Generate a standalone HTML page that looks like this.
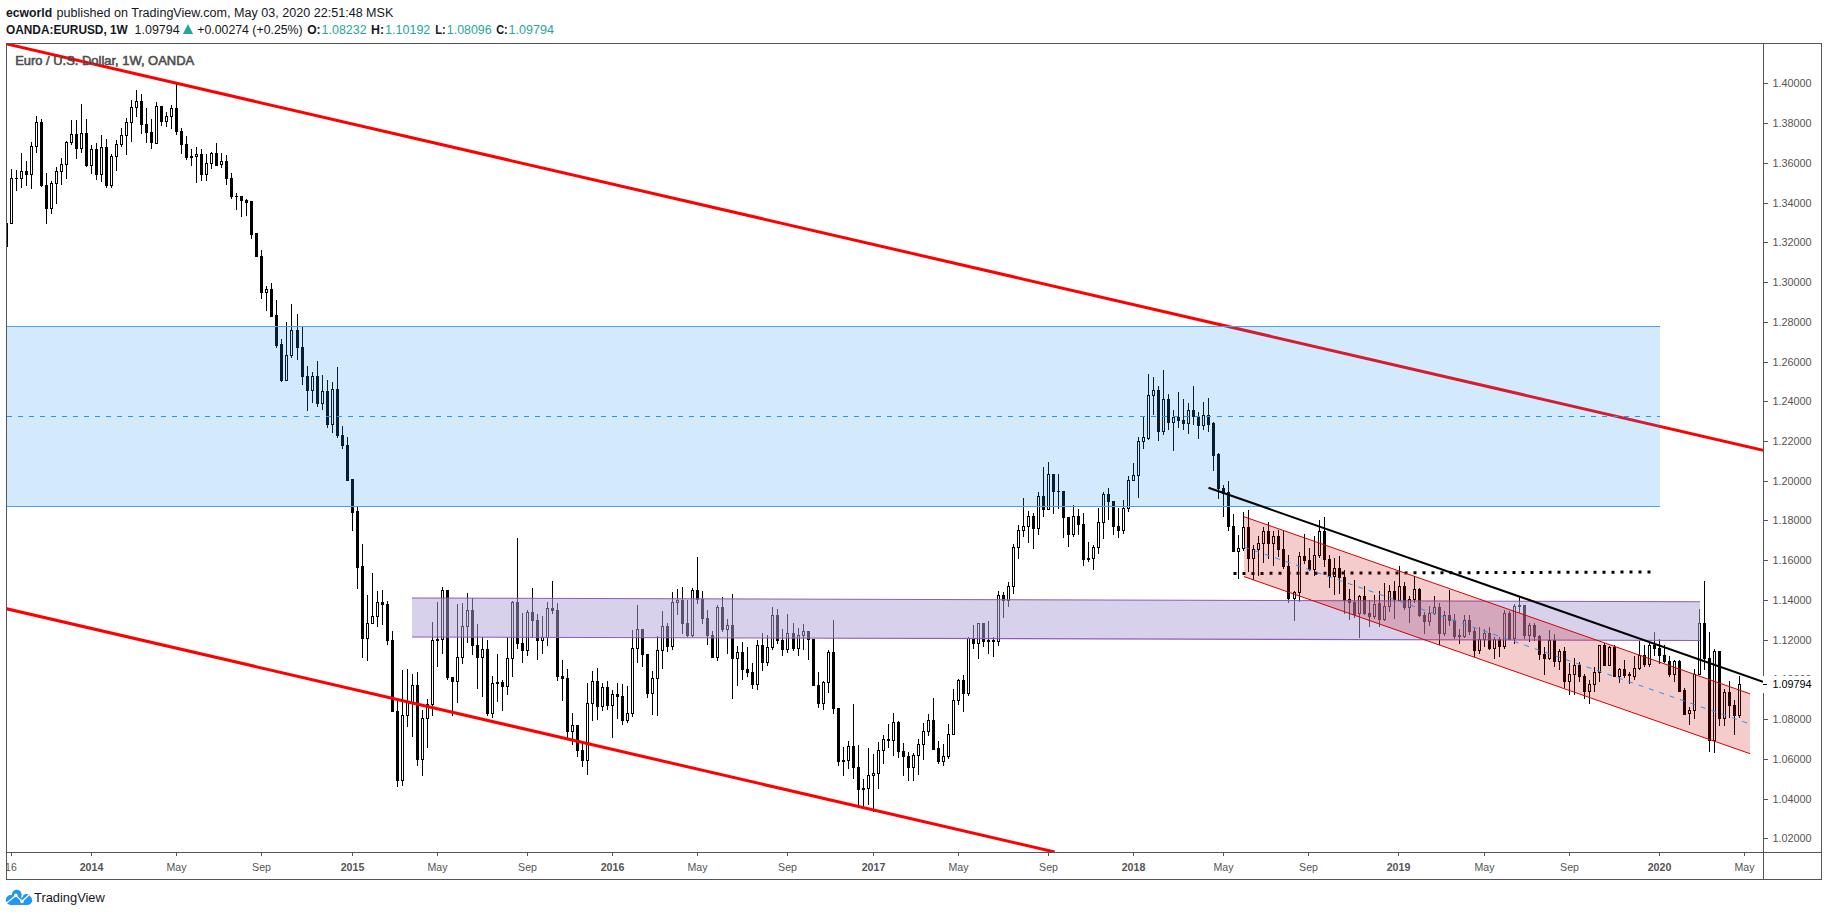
<!DOCTYPE html>
<html lang="en"><head><meta charset="utf-8"><title>EURUSD 1W chart by ecworld - TradingView</title>
<style>html,body{margin:0;padding:0;background:#fff;}body{width:1828px;height:916px;overflow:hidden;}svg{display:block;}text{font-family:"Liberation Sans",sans-serif;}</style></head><body>
<svg width="1828" height="916" viewBox="0 0 1828 916">
<rect width="1828" height="916" fill="#fff"/>
<g id="header">
<text x="6" y="16.6" font-size="12.5" fill="#131722" font-weight="bold" textLength="46.2" lengthAdjust="spacingAndGlyphs">ecworld</text>
<text x="56.6" y="16.6" font-size="12.5" fill="#131722" textLength="336.8" lengthAdjust="spacingAndGlyphs">published on TradingView.com, May 03, 2020 22:51:48 MSK</text>
<text x="6" y="34.1" font-size="12.5" fill="#131722" font-weight="bold" textLength="121.8" lengthAdjust="spacingAndGlyphs">OANDA:EURUSD, 1W</text>
<text x="134.6" y="34.1" font-size="12.5" fill="#131722" textLength="45" lengthAdjust="spacingAndGlyphs">1.09794</text>
<path d="M182.9 33.9 L188 24.0 L193.1 33.9 Z" fill="#26a69a"/>
<text x="197.3" y="34.1" font-size="12.5" fill="#131722" textLength="105.3" lengthAdjust="spacingAndGlyphs">+0.00274 (+0.25%)</text>
<text x="307.2" y="34.1" font-size="12.5" fill="#131722" font-weight="bold" textLength="13.4" lengthAdjust="spacingAndGlyphs">O:</text>
<text x="321.6" y="34.1" font-size="12.5" fill="#26a69a" textLength="45.0" lengthAdjust="spacingAndGlyphs">1.08232</text>
<text x="371.0" y="34.1" font-size="12.5" fill="#131722" font-weight="bold" textLength="13.0" lengthAdjust="spacingAndGlyphs">H:</text>
<text x="385.1" y="34.1" font-size="12.5" fill="#26a69a" textLength="45.2" lengthAdjust="spacingAndGlyphs">1.10192</text>
<text x="435.3" y="34.1" font-size="12.5" fill="#131722" font-weight="bold" textLength="10.5" lengthAdjust="spacingAndGlyphs">L:</text>
<text x="446.8" y="34.1" font-size="12.5" fill="#26a69a" textLength="44.8" lengthAdjust="spacingAndGlyphs">1.08096</text>
<text x="496.2" y="34.1" font-size="12.5" fill="#131722" font-weight="bold" textLength="11.6" lengthAdjust="spacingAndGlyphs">C:</text>
<text x="508.6" y="34.1" font-size="12.5" fill="#26a69a" textLength="45.3" lengthAdjust="spacingAndGlyphs">1.09794</text>
</g>
<defs><clipPath id="pane"><rect x="7" y="44" width="1756" height="808"/></clipPath></defs>
<g clip-path="url(#pane)">
<g shape-rendering="crispEdges" fill="#000">
<rect x="6" y="223" width="1" height="24"/>
<rect x="5" y="223" width="3" height="24"/>
<rect x="11" y="169" width="1" height="55"/>
<rect x="10" y="178" width="3" height="46"/>
<rect x="16" y="170" width="1" height="21"/>
<rect x="15" y="178" width="3" height="1"/>
<rect x="21" y="153" width="1" height="35"/>
<rect x="20" y="171" width="3" height="8"/>
<rect x="26" y="161" width="1" height="25"/>
<rect x="25" y="171" width="3" height="4"/>
<rect x="31" y="142" width="1" height="47"/>
<rect x="30" y="146" width="3" height="29"/>
<rect x="36" y="116" width="1" height="37"/>
<rect x="35" y="122" width="3" height="25"/>
<rect x="41" y="119" width="1" height="68"/>
<rect x="40" y="122" width="3" height="64"/>
<rect x="46" y="173" width="1" height="51"/>
<rect x="45" y="185" width="3" height="24"/>
<rect x="51" y="181" width="1" height="33"/>
<rect x="50" y="183" width="3" height="26"/>
<rect x="56" y="167" width="1" height="37"/>
<rect x="55" y="171" width="3" height="13"/>
<rect x="61" y="158" width="1" height="27"/>
<rect x="60" y="164" width="3" height="8"/>
<rect x="66" y="141" width="1" height="38"/>
<rect x="65" y="142" width="3" height="23"/>
<rect x="71" y="120" width="1" height="25"/>
<rect x="70" y="134" width="3" height="9"/>
<rect x="76" y="120" width="1" height="39"/>
<rect x="75" y="134" width="3" height="15"/>
<rect x="81" y="104" width="1" height="49"/>
<rect x="80" y="133" width="3" height="16"/>
<rect x="86" y="119" width="1" height="48"/>
<rect x="85" y="133" width="3" height="33"/>
<rect x="91" y="145" width="1" height="29"/>
<rect x="90" y="149" width="3" height="17"/>
<rect x="96" y="143" width="1" height="37"/>
<rect x="95" y="149" width="3" height="26"/>
<rect x="101" y="135" width="1" height="47"/>
<rect x="100" y="147" width="3" height="28"/>
<rect x="106" y="139" width="1" height="49"/>
<rect x="105" y="147" width="3" height="39"/>
<rect x="111" y="154" width="1" height="34"/>
<rect x="110" y="156" width="3" height="30"/>
<rect x="116" y="140" width="1" height="31"/>
<rect x="115" y="144" width="3" height="13"/>
<rect x="121" y="128" width="1" height="19"/>
<rect x="120" y="135" width="3" height="10"/>
<rect x="126" y="118" width="1" height="37"/>
<rect x="125" y="122" width="3" height="14"/>
<rect x="131" y="100" width="1" height="42"/>
<rect x="130" y="107" width="3" height="16"/>
<rect x="136" y="90" width="1" height="27"/>
<rect x="135" y="101" width="3" height="7"/>
<rect x="141" y="94" width="1" height="40"/>
<rect x="140" y="101" width="3" height="24"/>
<rect x="146" y="108" width="1" height="35"/>
<rect x="145" y="124" width="3" height="9"/>
<rect x="151" y="119" width="1" height="30"/>
<rect x="150" y="132" width="3" height="11"/>
<rect x="156" y="102" width="1" height="42"/>
<rect x="155" y="106" width="3" height="38"/>
<rect x="161" y="106" width="1" height="20"/>
<rect x="160" y="106" width="3" height="16"/>
<rect x="166" y="112" width="1" height="15"/>
<rect x="165" y="116" width="3" height="6"/>
<rect x="171" y="105" width="1" height="24"/>
<rect x="170" y="108" width="3" height="9"/>
<rect x="176" y="84" width="1" height="51"/>
<rect x="175" y="108" width="3" height="24"/>
<rect x="181" y="128" width="1" height="26"/>
<rect x="180" y="131" width="3" height="14"/>
<rect x="186" y="136" width="1" height="24"/>
<rect x="185" y="144" width="3" height="14"/>
<rect x="191" y="149" width="1" height="17"/>
<rect x="190" y="156" width="3" height="2"/>
<rect x="196" y="147" width="1" height="36"/>
<rect x="195" y="154" width="3" height="3"/>
<rect x="201" y="149" width="1" height="32"/>
<rect x="200" y="154" width="3" height="21"/>
<rect x="206" y="154" width="1" height="27"/>
<rect x="205" y="163" width="3" height="12"/>
<rect x="211" y="152" width="1" height="17"/>
<rect x="210" y="153" width="3" height="11"/>
<rect x="216" y="143" width="1" height="23"/>
<rect x="215" y="153" width="3" height="13"/>
<rect x="221" y="153" width="1" height="15"/>
<rect x="220" y="161" width="3" height="4"/>
<rect x="226" y="155" width="1" height="30"/>
<rect x="225" y="161" width="3" height="18"/>
<rect x="231" y="173" width="1" height="26"/>
<rect x="230" y="178" width="3" height="19"/>
<rect x="236" y="193" width="1" height="17"/>
<rect x="235" y="196" width="3" height="1"/>
<rect x="241" y="196" width="1" height="21"/>
<rect x="240" y="196" width="3" height="5"/>
<rect x="246" y="199" width="1" height="17"/>
<rect x="245" y="200" width="3" height="3"/>
<rect x="251" y="201" width="1" height="38"/>
<rect x="250" y="201" width="3" height="34"/>
<rect x="256" y="233" width="1" height="24"/>
<rect x="255" y="233" width="3" height="24"/>
<rect x="261" y="250" width="1" height="49"/>
<rect x="260" y="256" width="3" height="37"/>
<rect x="266" y="286" width="1" height="25"/>
<rect x="265" y="289" width="3" height="4"/>
<rect x="271" y="283" width="1" height="34"/>
<rect x="270" y="289" width="3" height="28"/>
<rect x="276" y="300" width="1" height="48"/>
<rect x="275" y="315" width="3" height="31"/>
<rect x="281" y="339" width="1" height="43"/>
<rect x="280" y="344" width="3" height="37"/>
<rect x="286" y="322" width="1" height="59"/>
<rect x="285" y="355" width="3" height="26"/>
<rect x="291" y="304" width="1" height="54"/>
<rect x="290" y="330" width="3" height="26"/>
<rect x="297" y="314" width="1" height="46"/>
<rect x="296" y="330" width="3" height="18"/>
<rect x="302" y="327" width="1" height="58"/>
<rect x="301" y="347" width="3" height="30"/>
<rect x="307" y="366" width="1" height="45"/>
<rect x="306" y="376" width="3" height="15"/>
<rect x="312" y="372" width="1" height="31"/>
<rect x="311" y="376" width="3" height="15"/>
<rect x="317" y="361" width="1" height="46"/>
<rect x="316" y="376" width="3" height="28"/>
<rect x="322" y="375" width="1" height="35"/>
<rect x="321" y="391" width="3" height="13"/>
<rect x="327" y="380" width="1" height="48"/>
<rect x="326" y="391" width="3" height="34"/>
<rect x="332" y="382" width="1" height="51"/>
<rect x="331" y="389" width="3" height="36"/>
<rect x="337" y="367" width="1" height="71"/>
<rect x="336" y="389" width="3" height="47"/>
<rect x="342" y="426" width="1" height="23"/>
<rect x="341" y="435" width="3" height="11"/>
<rect x="347" y="437" width="1" height="44"/>
<rect x="346" y="445" width="3" height="36"/>
<rect x="352" y="479" width="1" height="52"/>
<rect x="351" y="479" width="3" height="34"/>
<rect x="357" y="507" width="1" height="82"/>
<rect x="356" y="511" width="3" height="57"/>
<rect x="362" y="544" width="1" height="114"/>
<rect x="361" y="566" width="3" height="73"/>
<rect x="367" y="595" width="1" height="66"/>
<rect x="366" y="623" width="3" height="16"/>
<rect x="372" y="573" width="1" height="51"/>
<rect x="371" y="616" width="3" height="8"/>
<rect x="377" y="591" width="1" height="36"/>
<rect x="376" y="602" width="3" height="15"/>
<rect x="382" y="590" width="1" height="35"/>
<rect x="381" y="602" width="3" height="3"/>
<rect x="387" y="601" width="1" height="44"/>
<rect x="386" y="604" width="3" height="37"/>
<rect x="392" y="631" width="1" height="81"/>
<rect x="391" y="640" width="3" height="72"/>
<rect x="397" y="701" width="1" height="86"/>
<rect x="396" y="711" width="3" height="70"/>
<rect x="402" y="670" width="1" height="116"/>
<rect x="401" y="715" width="3" height="66"/>
<rect x="407" y="669" width="1" height="58"/>
<rect x="406" y="702" width="3" height="14"/>
<rect x="412" y="674" width="1" height="63"/>
<rect x="411" y="685" width="3" height="18"/>
<rect x="417" y="672" width="1" height="94"/>
<rect x="416" y="685" width="3" height="75"/>
<rect x="422" y="710" width="1" height="66"/>
<rect x="421" y="718" width="3" height="42"/>
<rect x="427" y="699" width="1" height="49"/>
<rect x="426" y="704" width="3" height="15"/>
<rect x="432" y="622" width="1" height="94"/>
<rect x="431" y="640" width="3" height="65"/>
<rect x="437" y="602" width="1" height="65"/>
<rect x="436" y="639" width="3" height="2"/>
<rect x="442" y="587" width="1" height="67"/>
<rect x="441" y="590" width="3" height="50"/>
<rect x="447" y="590" width="1" height="90"/>
<rect x="446" y="590" width="3" height="88"/>
<rect x="452" y="677" width="1" height="39"/>
<rect x="451" y="677" width="3" height="5"/>
<rect x="457" y="604" width="1" height="99"/>
<rect x="456" y="657" width="3" height="25"/>
<rect x="462" y="603" width="1" height="61"/>
<rect x="461" y="626" width="3" height="32"/>
<rect x="467" y="593" width="1" height="50"/>
<rect x="466" y="610" width="3" height="17"/>
<rect x="472" y="598" width="1" height="57"/>
<rect x="471" y="610" width="3" height="36"/>
<rect x="477" y="624" width="1" height="65"/>
<rect x="476" y="645" width="3" height="13"/>
<rect x="482" y="637" width="1" height="60"/>
<rect x="481" y="649" width="3" height="9"/>
<rect x="487" y="640" width="1" height="76"/>
<rect x="486" y="649" width="3" height="65"/>
<rect x="492" y="676" width="1" height="42"/>
<rect x="491" y="683" width="3" height="31"/>
<rect x="497" y="654" width="1" height="48"/>
<rect x="496" y="682" width="3" height="2"/>
<rect x="502" y="680" width="1" height="31"/>
<rect x="501" y="682" width="3" height="5"/>
<rect x="507" y="637" width="1" height="58"/>
<rect x="506" y="658" width="3" height="29"/>
<rect x="512" y="601" width="1" height="76"/>
<rect x="511" y="602" width="3" height="57"/>
<rect x="517" y="538" width="1" height="111"/>
<rect x="516" y="602" width="3" height="42"/>
<rect x="522" y="613" width="1" height="50"/>
<rect x="521" y="643" width="3" height="8"/>
<rect x="527" y="610" width="1" height="46"/>
<rect x="526" y="612" width="3" height="39"/>
<rect x="532" y="588" width="1" height="50"/>
<rect x="531" y="612" width="3" height="9"/>
<rect x="537" y="614" width="1" height="46"/>
<rect x="536" y="620" width="3" height="21"/>
<rect x="542" y="616" width="1" height="38"/>
<rect x="541" y="637" width="3" height="4"/>
<rect x="547" y="602" width="1" height="44"/>
<rect x="546" y="608" width="3" height="30"/>
<rect x="552" y="581" width="1" height="33"/>
<rect x="551" y="608" width="3" height="3"/>
<rect x="557" y="603" width="1" height="78"/>
<rect x="556" y="610" width="3" height="67"/>
<rect x="562" y="660" width="1" height="41"/>
<rect x="561" y="676" width="3" height="3"/>
<rect x="567" y="669" width="1" height="69"/>
<rect x="566" y="678" width="3" height="54"/>
<rect x="572" y="713" width="1" height="32"/>
<rect x="571" y="725" width="3" height="7"/>
<rect x="577" y="725" width="1" height="32"/>
<rect x="576" y="725" width="3" height="26"/>
<rect x="582" y="744" width="1" height="23"/>
<rect x="581" y="750" width="3" height="11"/>
<rect x="587" y="683" width="1" height="92"/>
<rect x="586" y="703" width="3" height="58"/>
<rect x="592" y="671" width="1" height="50"/>
<rect x="591" y="681" width="3" height="23"/>
<rect x="597" y="668" width="1" height="52"/>
<rect x="596" y="681" width="3" height="26"/>
<rect x="602" y="683" width="1" height="28"/>
<rect x="601" y="687" width="3" height="20"/>
<rect x="607" y="681" width="1" height="29"/>
<rect x="606" y="687" width="3" height="19"/>
<rect x="612" y="690" width="1" height="48"/>
<rect x="611" y="694" width="3" height="12"/>
<rect x="617" y="683" width="1" height="36"/>
<rect x="616" y="694" width="3" height="3"/>
<rect x="622" y="684" width="1" height="41"/>
<rect x="621" y="696" width="3" height="25"/>
<rect x="627" y="686" width="1" height="37"/>
<rect x="626" y="713" width="3" height="8"/>
<rect x="632" y="630" width="1" height="87"/>
<rect x="631" y="648" width="3" height="66"/>
<rect x="637" y="605" width="1" height="58"/>
<rect x="636" y="629" width="3" height="20"/>
<rect x="642" y="629" width="1" height="38"/>
<rect x="641" y="629" width="3" height="26"/>
<rect x="647" y="654" width="1" height="44"/>
<rect x="646" y="654" width="3" height="40"/>
<rect x="652" y="671" width="1" height="44"/>
<rect x="651" y="678" width="3" height="16"/>
<rect x="657" y="636" width="1" height="80"/>
<rect x="656" y="650" width="3" height="29"/>
<rect x="662" y="611" width="1" height="58"/>
<rect x="661" y="626" width="3" height="25"/>
<rect x="667" y="623" width="1" height="29"/>
<rect x="666" y="626" width="3" height="21"/>
<rect x="672" y="592" width="1" height="58"/>
<rect x="671" y="602" width="3" height="45"/>
<rect x="677" y="589" width="1" height="26"/>
<rect x="676" y="600" width="3" height="3"/>
<rect x="682" y="587" width="1" height="47"/>
<rect x="681" y="600" width="3" height="24"/>
<rect x="687" y="600" width="1" height="37"/>
<rect x="686" y="623" width="3" height="13"/>
<rect x="692" y="588" width="1" height="49"/>
<rect x="691" y="590" width="3" height="46"/>
<rect x="697" y="557" width="1" height="47"/>
<rect x="696" y="590" width="3" height="10"/>
<rect x="702" y="591" width="1" height="33"/>
<rect x="701" y="599" width="3" height="20"/>
<rect x="707" y="610" width="1" height="35"/>
<rect x="706" y="618" width="3" height="18"/>
<rect x="712" y="631" width="1" height="27"/>
<rect x="711" y="635" width="3" height="23"/>
<rect x="717" y="605" width="1" height="56"/>
<rect x="716" y="607" width="3" height="51"/>
<rect x="722" y="597" width="1" height="35"/>
<rect x="721" y="607" width="3" height="23"/>
<rect x="727" y="619" width="1" height="35"/>
<rect x="726" y="625" width="3" height="5"/>
<rect x="732" y="594" width="1" height="105"/>
<rect x="731" y="625" width="3" height="34"/>
<rect x="737" y="646" width="1" height="40"/>
<rect x="736" y="652" width="3" height="7"/>
<rect x="742" y="642" width="1" height="38"/>
<rect x="741" y="652" width="3" height="18"/>
<rect x="747" y="647" width="1" height="30"/>
<rect x="746" y="669" width="3" height="4"/>
<rect x="752" y="663" width="1" height="26"/>
<rect x="751" y="672" width="3" height="13"/>
<rect x="757" y="640" width="1" height="50"/>
<rect x="756" y="645" width="3" height="40"/>
<rect x="762" y="633" width="1" height="38"/>
<rect x="761" y="645" width="3" height="18"/>
<rect x="767" y="635" width="1" height="31"/>
<rect x="766" y="647" width="3" height="16"/>
<rect x="772" y="607" width="1" height="43"/>
<rect x="771" y="615" width="3" height="33"/>
<rect x="777" y="609" width="1" height="35"/>
<rect x="776" y="615" width="3" height="26"/>
<rect x="782" y="629" width="1" height="27"/>
<rect x="781" y="640" width="3" height="10"/>
<rect x="787" y="614" width="1" height="39"/>
<rect x="786" y="633" width="3" height="17"/>
<rect x="793" y="623" width="1" height="28"/>
<rect x="792" y="633" width="3" height="16"/>
<rect x="798" y="628" width="1" height="28"/>
<rect x="797" y="635" width="3" height="14"/>
<rect x="803" y="624" width="1" height="26"/>
<rect x="802" y="631" width="3" height="5"/>
<rect x="808" y="631" width="1" height="29"/>
<rect x="807" y="631" width="3" height="9"/>
<rect x="813" y="639" width="1" height="47"/>
<rect x="812" y="639" width="3" height="47"/>
<rect x="818" y="672" width="1" height="36"/>
<rect x="817" y="685" width="3" height="19"/>
<rect x="823" y="681" width="1" height="29"/>
<rect x="822" y="682" width="3" height="22"/>
<rect x="828" y="650" width="1" height="43"/>
<rect x="827" y="652" width="3" height="31"/>
<rect x="833" y="620" width="1" height="94"/>
<rect x="832" y="652" width="3" height="57"/>
<rect x="838" y="708" width="1" height="58"/>
<rect x="837" y="708" width="3" height="54"/>
<rect x="843" y="747" width="1" height="29"/>
<rect x="842" y="760" width="3" height="2"/>
<rect x="848" y="741" width="1" height="28"/>
<rect x="847" y="746" width="3" height="15"/>
<rect x="853" y="704" width="1" height="75"/>
<rect x="852" y="746" width="3" height="22"/>
<rect x="858" y="745" width="1" height="62"/>
<rect x="857" y="767" width="3" height="23"/>
<rect x="863" y="779" width="1" height="28"/>
<rect x="862" y="788" width="3" height="2"/>
<rect x="868" y="748" width="1" height="57"/>
<rect x="867" y="775" width="3" height="14"/>
<rect x="873" y="754" width="1" height="58"/>
<rect x="872" y="773" width="3" height="3"/>
<rect x="878" y="742" width="1" height="47"/>
<rect x="877" y="750" width="3" height="24"/>
<rect x="883" y="735" width="1" height="29"/>
<rect x="882" y="739" width="3" height="12"/>
<rect x="888" y="724" width="1" height="24"/>
<rect x="887" y="739" width="3" height="2"/>
<rect x="893" y="713" width="1" height="43"/>
<rect x="892" y="722" width="3" height="19"/>
<rect x="898" y="721" width="1" height="37"/>
<rect x="897" y="722" width="3" height="30"/>
<rect x="903" y="743" width="1" height="33"/>
<rect x="902" y="751" width="3" height="6"/>
<rect x="908" y="752" width="1" height="29"/>
<rect x="907" y="756" width="3" height="12"/>
<rect x="913" y="753" width="1" height="28"/>
<rect x="912" y="755" width="3" height="13"/>
<rect x="918" y="739" width="1" height="36"/>
<rect x="917" y="744" width="3" height="12"/>
<rect x="923" y="723" width="1" height="37"/>
<rect x="922" y="731" width="3" height="14"/>
<rect x="928" y="714" width="1" height="22"/>
<rect x="927" y="720" width="3" height="12"/>
<rect x="933" y="698" width="1" height="52"/>
<rect x="932" y="720" width="3" height="30"/>
<rect x="938" y="741" width="1" height="23"/>
<rect x="937" y="748" width="3" height="14"/>
<rect x="943" y="744" width="1" height="22"/>
<rect x="942" y="756" width="3" height="6"/>
<rect x="948" y="724" width="1" height="35"/>
<rect x="947" y="734" width="3" height="23"/>
<rect x="953" y="689" width="1" height="46"/>
<rect x="952" y="700" width="3" height="35"/>
<rect x="958" y="679" width="1" height="26"/>
<rect x="957" y="680" width="3" height="21"/>
<rect x="963" y="675" width="1" height="37"/>
<rect x="962" y="680" width="3" height="14"/>
<rect x="968" y="637" width="1" height="59"/>
<rect x="967" y="638" width="3" height="56"/>
<rect x="973" y="625" width="1" height="24"/>
<rect x="972" y="639" width="3" height="5"/>
<rect x="978" y="623" width="1" height="36"/>
<rect x="977" y="623" width="3" height="21"/>
<rect x="983" y="623" width="1" height="24"/>
<rect x="982" y="623" width="3" height="19"/>
<rect x="988" y="621" width="1" height="33"/>
<rect x="987" y="640" width="3" height="2"/>
<rect x="993" y="637" width="1" height="20"/>
<rect x="992" y="640" width="3" height="2"/>
<rect x="998" y="591" width="1" height="55"/>
<rect x="997" y="595" width="3" height="47"/>
<rect x="1003" y="592" width="1" height="26"/>
<rect x="1002" y="595" width="3" height="6"/>
<rect x="1008" y="582" width="1" height="25"/>
<rect x="1007" y="586" width="3" height="15"/>
<rect x="1013" y="544" width="1" height="50"/>
<rect x="1012" y="547" width="3" height="40"/>
<rect x="1018" y="525" width="1" height="34"/>
<rect x="1017" y="530" width="3" height="18"/>
<rect x="1023" y="498" width="1" height="39"/>
<rect x="1022" y="526" width="3" height="5"/>
<rect x="1028" y="511" width="1" height="32"/>
<rect x="1027" y="516" width="3" height="11"/>
<rect x="1033" y="513" width="1" height="36"/>
<rect x="1032" y="516" width="3" height="13"/>
<rect x="1038" y="492" width="1" height="43"/>
<rect x="1037" y="496" width="3" height="33"/>
<rect x="1043" y="467" width="1" height="50"/>
<rect x="1042" y="496" width="3" height="14"/>
<rect x="1048" y="462" width="1" height="48"/>
<rect x="1047" y="474" width="3" height="36"/>
<rect x="1053" y="474" width="1" height="40"/>
<rect x="1052" y="474" width="3" height="18"/>
<rect x="1058" y="474" width="1" height="35"/>
<rect x="1057" y="491" width="3" height="1"/>
<rect x="1063" y="491" width="1" height="47"/>
<rect x="1062" y="491" width="3" height="27"/>
<rect x="1068" y="517" width="1" height="30"/>
<rect x="1067" y="517" width="3" height="18"/>
<rect x="1073" y="505" width="1" height="32"/>
<rect x="1072" y="516" width="3" height="19"/>
<rect x="1078" y="509" width="1" height="26"/>
<rect x="1077" y="516" width="3" height="9"/>
<rect x="1083" y="513" width="1" height="53"/>
<rect x="1082" y="524" width="3" height="36"/>
<rect x="1088" y="542" width="1" height="20"/>
<rect x="1087" y="558" width="3" height="2"/>
<rect x="1093" y="545" width="1" height="25"/>
<rect x="1092" y="547" width="3" height="12"/>
<rect x="1098" y="508" width="1" height="46"/>
<rect x="1097" y="522" width="3" height="26"/>
<rect x="1103" y="492" width="1" height="47"/>
<rect x="1102" y="494" width="3" height="29"/>
<rect x="1108" y="488" width="1" height="32"/>
<rect x="1107" y="494" width="3" height="8"/>
<rect x="1113" y="501" width="1" height="34"/>
<rect x="1112" y="501" width="3" height="26"/>
<rect x="1118" y="508" width="1" height="30"/>
<rect x="1117" y="526" width="3" height="5"/>
<rect x="1123" y="500" width="1" height="34"/>
<rect x="1122" y="508" width="3" height="23"/>
<rect x="1128" y="476" width="1" height="36"/>
<rect x="1127" y="480" width="3" height="29"/>
<rect x="1133" y="463" width="1" height="18"/>
<rect x="1132" y="475" width="3" height="6"/>
<rect x="1138" y="437" width="1" height="61"/>
<rect x="1137" y="441" width="3" height="35"/>
<rect x="1143" y="416" width="1" height="33"/>
<rect x="1142" y="437" width="3" height="5"/>
<rect x="1148" y="374" width="1" height="66"/>
<rect x="1147" y="395" width="3" height="44"/>
<rect x="1153" y="377" width="1" height="38"/>
<rect x="1152" y="390" width="3" height="6"/>
<rect x="1158" y="386" width="1" height="55"/>
<rect x="1157" y="390" width="3" height="42"/>
<rect x="1163" y="370" width="1" height="65"/>
<rect x="1162" y="399" width="3" height="33"/>
<rect x="1168" y="394" width="1" height="36"/>
<rect x="1167" y="399" width="3" height="24"/>
<rect x="1173" y="410" width="1" height="41"/>
<rect x="1172" y="417" width="3" height="6"/>
<rect x="1178" y="392" width="1" height="36"/>
<rect x="1177" y="417" width="3" height="4"/>
<rect x="1183" y="399" width="1" height="31"/>
<rect x="1182" y="420" width="3" height="4"/>
<rect x="1188" y="403" width="1" height="31"/>
<rect x="1187" y="410" width="3" height="14"/>
<rect x="1193" y="386" width="1" height="39"/>
<rect x="1192" y="410" width="3" height="7"/>
<rect x="1198" y="412" width="1" height="27"/>
<rect x="1197" y="416" width="3" height="10"/>
<rect x="1203" y="402" width="1" height="28"/>
<rect x="1202" y="415" width="3" height="11"/>
<rect x="1208" y="398" width="1" height="34"/>
<rect x="1207" y="415" width="3" height="10"/>
<rect x="1213" y="422" width="1" height="49"/>
<rect x="1212" y="423" width="3" height="33"/>
<rect x="1218" y="453" width="1" height="46"/>
<rect x="1217" y="454" width="3" height="35"/>
<rect x="1223" y="485" width="1" height="32"/>
<rect x="1222" y="488" width="3" height="6"/>
<rect x="1228" y="481" width="1" height="50"/>
<rect x="1227" y="492" width="3" height="35"/>
<rect x="1233" y="514" width="1" height="38"/>
<rect x="1232" y="526" width="3" height="26"/>
<rect x="1238" y="535" width="1" height="44"/>
<rect x="1237" y="548" width="3" height="4"/>
<rect x="1243" y="512" width="1" height="39"/>
<rect x="1242" y="527" width="3" height="22"/>
<rect x="1248" y="510" width="1" height="62"/>
<rect x="1247" y="527" width="3" height="32"/>
<rect x="1253" y="545" width="1" height="35"/>
<rect x="1252" y="549" width="3" height="10"/>
<rect x="1258" y="536" width="1" height="40"/>
<rect x="1257" y="543" width="3" height="7"/>
<rect x="1263" y="527" width="1" height="36"/>
<rect x="1262" y="531" width="3" height="13"/>
<rect x="1268" y="522" width="1" height="37"/>
<rect x="1267" y="531" width="3" height="13"/>
<rect x="1273" y="531" width="1" height="35"/>
<rect x="1272" y="536" width="3" height="8"/>
<rect x="1278" y="530" width="1" height="27"/>
<rect x="1277" y="536" width="3" height="14"/>
<rect x="1283" y="531" width="1" height="38"/>
<rect x="1282" y="549" width="3" height="18"/>
<rect x="1288" y="555" width="1" height="48"/>
<rect x="1287" y="566" width="3" height="33"/>
<rect x="1294" y="591" width="1" height="30"/>
<rect x="1293" y="592" width="3" height="7"/>
<rect x="1299" y="552" width="1" height="50"/>
<rect x="1298" y="556" width="3" height="37"/>
<rect x="1304" y="534" width="1" height="30"/>
<rect x="1303" y="556" width="3" height="5"/>
<rect x="1309" y="548" width="1" height="23"/>
<rect x="1308" y="560" width="3" height="10"/>
<rect x="1314" y="536" width="1" height="40"/>
<rect x="1313" y="555" width="3" height="15"/>
<rect x="1319" y="520" width="1" height="38"/>
<rect x="1318" y="531" width="3" height="25"/>
<rect x="1324" y="517" width="1" height="50"/>
<rect x="1323" y="531" width="3" height="29"/>
<rect x="1329" y="555" width="1" height="33"/>
<rect x="1328" y="559" width="3" height="18"/>
<rect x="1334" y="558" width="1" height="37"/>
<rect x="1333" y="568" width="3" height="9"/>
<rect x="1339" y="556" width="1" height="38"/>
<rect x="1338" y="568" width="3" height="10"/>
<rect x="1344" y="570" width="1" height="44"/>
<rect x="1343" y="577" width="3" height="24"/>
<rect x="1349" y="589" width="1" height="31"/>
<rect x="1348" y="599" width="3" height="4"/>
<rect x="1354" y="580" width="1" height="38"/>
<rect x="1353" y="602" width="3" height="13"/>
<rect x="1359" y="595" width="1" height="43"/>
<rect x="1358" y="596" width="3" height="18"/>
<rect x="1364" y="586" width="1" height="29"/>
<rect x="1363" y="596" width="3" height="18"/>
<rect x="1369" y="600" width="1" height="27"/>
<rect x="1368" y="613" width="3" height="4"/>
<rect x="1374" y="595" width="1" height="24"/>
<rect x="1373" y="604" width="3" height="13"/>
<rect x="1379" y="591" width="1" height="36"/>
<rect x="1378" y="603" width="3" height="17"/>
<rect x="1384" y="583" width="1" height="38"/>
<rect x="1383" y="606" width="3" height="14"/>
<rect x="1389" y="585" width="1" height="27"/>
<rect x="1388" y="591" width="3" height="16"/>
<rect x="1394" y="581" width="1" height="38"/>
<rect x="1393" y="591" width="3" height="9"/>
<rect x="1399" y="566" width="1" height="35"/>
<rect x="1398" y="586" width="3" height="15"/>
<rect x="1404" y="582" width="1" height="28"/>
<rect x="1403" y="586" width="3" height="22"/>
<rect x="1409" y="596" width="1" height="27"/>
<rect x="1408" y="599" width="3" height="9"/>
<rect x="1414" y="576" width="1" height="27"/>
<rect x="1413" y="589" width="3" height="11"/>
<rect x="1419" y="588" width="1" height="29"/>
<rect x="1418" y="589" width="3" height="27"/>
<rect x="1424" y="612" width="1" height="22"/>
<rect x="1423" y="615" width="3" height="7"/>
<rect x="1429" y="606" width="1" height="20"/>
<rect x="1428" y="613" width="3" height="9"/>
<rect x="1434" y="596" width="1" height="19"/>
<rect x="1433" y="607" width="3" height="7"/>
<rect x="1439" y="603" width="1" height="42"/>
<rect x="1438" y="607" width="3" height="27"/>
<rect x="1444" y="611" width="1" height="25"/>
<rect x="1443" y="615" width="3" height="19"/>
<rect x="1449" y="590" width="1" height="36"/>
<rect x="1448" y="615" width="3" height="6"/>
<rect x="1454" y="614" width="1" height="25"/>
<rect x="1453" y="620" width="3" height="17"/>
<rect x="1459" y="629" width="1" height="15"/>
<rect x="1458" y="635" width="3" height="2"/>
<rect x="1464" y="615" width="1" height="23"/>
<rect x="1463" y="620" width="3" height="17"/>
<rect x="1469" y="615" width="1" height="20"/>
<rect x="1468" y="620" width="3" height="12"/>
<rect x="1474" y="628" width="1" height="29"/>
<rect x="1473" y="631" width="3" height="20"/>
<rect x="1479" y="627" width="1" height="27"/>
<rect x="1478" y="639" width="3" height="12"/>
<rect x="1484" y="629" width="1" height="18"/>
<rect x="1483" y="633" width="3" height="7"/>
<rect x="1489" y="627" width="1" height="23"/>
<rect x="1488" y="633" width="3" height="16"/>
<rect x="1494" y="637" width="1" height="22"/>
<rect x="1493" y="639" width="3" height="10"/>
<rect x="1499" y="637" width="1" height="20"/>
<rect x="1498" y="639" width="3" height="8"/>
<rect x="1504" y="610" width="1" height="39"/>
<rect x="1503" y="613" width="3" height="34"/>
<rect x="1509" y="611" width="1" height="29"/>
<rect x="1508" y="613" width="3" height="27"/>
<rect x="1514" y="604" width="1" height="40"/>
<rect x="1513" y="606" width="3" height="33"/>
<rect x="1519" y="597" width="1" height="16"/>
<rect x="1518" y="605" width="3" height="2"/>
<rect x="1524" y="605" width="1" height="34"/>
<rect x="1523" y="605" width="3" height="31"/>
<rect x="1529" y="623" width="1" height="19"/>
<rect x="1528" y="625" width="3" height="11"/>
<rect x="1534" y="623" width="1" height="18"/>
<rect x="1533" y="625" width="3" height="12"/>
<rect x="1539" y="635" width="1" height="25"/>
<rect x="1538" y="636" width="3" height="19"/>
<rect x="1544" y="647" width="1" height="28"/>
<rect x="1543" y="654" width="3" height="5"/>
<rect x="1549" y="630" width="1" height="30"/>
<rect x="1548" y="640" width="3" height="19"/>
<rect x="1554" y="634" width="1" height="33"/>
<rect x="1553" y="640" width="3" height="22"/>
<rect x="1559" y="649" width="1" height="21"/>
<rect x="1558" y="651" width="3" height="11"/>
<rect x="1564" y="647" width="1" height="41"/>
<rect x="1563" y="651" width="3" height="31"/>
<rect x="1569" y="663" width="1" height="32"/>
<rect x="1568" y="674" width="3" height="8"/>
<rect x="1574" y="658" width="1" height="37"/>
<rect x="1573" y="665" width="3" height="10"/>
<rect x="1579" y="662" width="1" height="20"/>
<rect x="1578" y="665" width="3" height="12"/>
<rect x="1584" y="674" width="1" height="25"/>
<rect x="1583" y="676" width="3" height="16"/>
<rect x="1589" y="680" width="1" height="24"/>
<rect x="1588" y="684" width="3" height="8"/>
<rect x="1594" y="667" width="1" height="25"/>
<rect x="1593" y="672" width="3" height="13"/>
<rect x="1599" y="645" width="1" height="37"/>
<rect x="1598" y="645" width="3" height="28"/>
<rect x="1604" y="643" width="1" height="23"/>
<rect x="1603" y="645" width="3" height="21"/>
<rect x="1609" y="646" width="1" height="20"/>
<rect x="1608" y="647" width="3" height="19"/>
<rect x="1614" y="645" width="1" height="32"/>
<rect x="1613" y="647" width="3" height="30"/>
<rect x="1619" y="668" width="1" height="15"/>
<rect x="1618" y="669" width="3" height="8"/>
<rect x="1624" y="660" width="1" height="18"/>
<rect x="1623" y="669" width="3" height="7"/>
<rect x="1629" y="672" width="1" height="12"/>
<rect x="1628" y="674" width="3" height="2"/>
<rect x="1634" y="656" width="1" height="24"/>
<rect x="1633" y="668" width="3" height="9"/>
<rect x="1639" y="641" width="1" height="29"/>
<rect x="1638" y="655" width="3" height="14"/>
<rect x="1644" y="645" width="1" height="22"/>
<rect x="1643" y="655" width="3" height="10"/>
<rect x="1649" y="643" width="1" height="24"/>
<rect x="1648" y="645" width="3" height="20"/>
<rect x="1654" y="632" width="1" height="24"/>
<rect x="1653" y="645" width="3" height="4"/>
<rect x="1659" y="639" width="1" height="25"/>
<rect x="1658" y="648" width="3" height="8"/>
<rect x="1664" y="645" width="1" height="18"/>
<rect x="1663" y="655" width="3" height="7"/>
<rect x="1669" y="656" width="1" height="21"/>
<rect x="1668" y="661" width="3" height="14"/>
<rect x="1674" y="660" width="1" height="22"/>
<rect x="1673" y="661" width="3" height="14"/>
<rect x="1679" y="660" width="1" height="32"/>
<rect x="1678" y="661" width="3" height="31"/>
<rect x="1684" y="688" width="1" height="27"/>
<rect x="1683" y="690" width="3" height="25"/>
<rect x="1689" y="707" width="1" height="18"/>
<rect x="1688" y="710" width="3" height="4"/>
<rect x="1694" y="669" width="1" height="50"/>
<rect x="1693" y="674" width="3" height="37"/>
<rect x="1699" y="609" width="1" height="66"/>
<rect x="1698" y="623" width="3" height="52"/>
<rect x="1704" y="581" width="1" height="89"/>
<rect x="1703" y="623" width="3" height="36"/>
<rect x="1709" y="632" width="1" height="120"/>
<rect x="1708" y="658" width="3" height="83"/>
<rect x="1714" y="649" width="1" height="104"/>
<rect x="1713" y="651" width="3" height="90"/>
<rect x="1719" y="651" width="1" height="75"/>
<rect x="1718" y="651" width="3" height="68"/>
<rect x="1724" y="689" width="1" height="37"/>
<rect x="1723" y="692" width="3" height="27"/>
<rect x="1729" y="681" width="1" height="37"/>
<rect x="1728" y="692" width="3" height="14"/>
<rect x="1734" y="700" width="1" height="35"/>
<rect x="1733" y="705" width="3" height="11"/>
<rect x="1739" y="676" width="1" height="42"/>
<rect x="1738" y="684" width="3" height="32"/>
</g>
<g shape-rendering="crispEdges" fill="#fff"><rect x="6" y="224" width="1" height="22"/><rect x="11" y="179" width="1" height="44"/><rect x="21" y="172" width="1" height="6"/><rect x="31" y="147" width="1" height="27"/><rect x="36" y="123" width="1" height="23"/><rect x="51" y="184" width="1" height="24"/><rect x="56" y="172" width="1" height="11"/><rect x="61" y="165" width="1" height="6"/><rect x="66" y="143" width="1" height="21"/><rect x="71" y="135" width="1" height="7"/><rect x="81" y="134" width="1" height="14"/><rect x="91" y="150" width="1" height="15"/><rect x="101" y="148" width="1" height="26"/><rect x="111" y="157" width="1" height="28"/><rect x="116" y="145" width="1" height="11"/><rect x="121" y="136" width="1" height="8"/><rect x="126" y="123" width="1" height="12"/><rect x="131" y="108" width="1" height="14"/><rect x="136" y="102" width="1" height="5"/><rect x="156" y="107" width="1" height="36"/><rect x="166" y="117" width="1" height="4"/><rect x="171" y="109" width="1" height="7"/><rect x="196" y="155" width="1" height="1"/><rect x="206" y="164" width="1" height="10"/><rect x="211" y="154" width="1" height="9"/><rect x="221" y="162" width="1" height="2"/><rect x="266" y="290" width="1" height="2"/><rect x="286" y="356" width="1" height="24"/><rect x="291" y="331" width="1" height="24"/><rect x="312" y="377" width="1" height="13"/><rect x="322" y="392" width="1" height="11"/><rect x="332" y="390" width="1" height="34"/><rect x="367" y="624" width="1" height="14"/><rect x="372" y="617" width="1" height="6"/><rect x="377" y="603" width="1" height="13"/><rect x="402" y="716" width="1" height="64"/><rect x="407" y="703" width="1" height="12"/><rect x="412" y="686" width="1" height="16"/><rect x="422" y="719" width="1" height="40"/><rect x="427" y="705" width="1" height="13"/><rect x="432" y="641" width="1" height="63"/><rect x="442" y="591" width="1" height="48"/><rect x="457" y="658" width="1" height="23"/><rect x="462" y="627" width="1" height="30"/><rect x="467" y="611" width="1" height="15"/><rect x="482" y="650" width="1" height="7"/><rect x="492" y="684" width="1" height="29"/><rect x="507" y="659" width="1" height="27"/><rect x="512" y="603" width="1" height="55"/><rect x="527" y="613" width="1" height="37"/><rect x="542" y="638" width="1" height="2"/><rect x="547" y="609" width="1" height="28"/><rect x="572" y="726" width="1" height="5"/><rect x="587" y="704" width="1" height="56"/><rect x="592" y="682" width="1" height="21"/><rect x="602" y="688" width="1" height="18"/><rect x="612" y="695" width="1" height="10"/><rect x="627" y="714" width="1" height="6"/><rect x="632" y="649" width="1" height="64"/><rect x="637" y="630" width="1" height="18"/><rect x="652" y="679" width="1" height="14"/><rect x="657" y="651" width="1" height="27"/><rect x="662" y="627" width="1" height="23"/><rect x="672" y="603" width="1" height="43"/><rect x="677" y="601" width="1" height="1"/><rect x="692" y="591" width="1" height="44"/><rect x="717" y="608" width="1" height="49"/><rect x="727" y="626" width="1" height="3"/><rect x="737" y="653" width="1" height="5"/><rect x="757" y="646" width="1" height="38"/><rect x="767" y="648" width="1" height="14"/><rect x="772" y="616" width="1" height="31"/><rect x="787" y="634" width="1" height="15"/><rect x="798" y="636" width="1" height="12"/><rect x="803" y="632" width="1" height="3"/><rect x="823" y="683" width="1" height="20"/><rect x="828" y="653" width="1" height="29"/><rect x="848" y="747" width="1" height="13"/><rect x="868" y="776" width="1" height="12"/><rect x="873" y="774" width="1" height="1"/><rect x="878" y="751" width="1" height="22"/><rect x="883" y="740" width="1" height="10"/><rect x="893" y="723" width="1" height="17"/><rect x="913" y="756" width="1" height="11"/><rect x="918" y="745" width="1" height="10"/><rect x="923" y="732" width="1" height="12"/><rect x="928" y="721" width="1" height="10"/><rect x="943" y="757" width="1" height="4"/><rect x="948" y="735" width="1" height="21"/><rect x="953" y="701" width="1" height="33"/><rect x="958" y="681" width="1" height="19"/><rect x="968" y="639" width="1" height="54"/><rect x="978" y="624" width="1" height="19"/><rect x="998" y="596" width="1" height="45"/><rect x="1008" y="587" width="1" height="13"/><rect x="1013" y="548" width="1" height="38"/><rect x="1018" y="531" width="1" height="16"/><rect x="1023" y="527" width="1" height="3"/><rect x="1028" y="517" width="1" height="9"/><rect x="1038" y="497" width="1" height="31"/><rect x="1048" y="475" width="1" height="34"/><rect x="1073" y="517" width="1" height="17"/><rect x="1093" y="548" width="1" height="10"/><rect x="1098" y="523" width="1" height="24"/><rect x="1103" y="495" width="1" height="27"/><rect x="1123" y="509" width="1" height="21"/><rect x="1128" y="481" width="1" height="27"/><rect x="1133" y="476" width="1" height="4"/><rect x="1138" y="442" width="1" height="33"/><rect x="1143" y="438" width="1" height="3"/><rect x="1148" y="396" width="1" height="42"/><rect x="1153" y="391" width="1" height="4"/><rect x="1163" y="400" width="1" height="31"/><rect x="1173" y="418" width="1" height="4"/><rect x="1188" y="411" width="1" height="12"/><rect x="1203" y="416" width="1" height="9"/><rect x="1238" y="549" width="1" height="2"/><rect x="1243" y="528" width="1" height="20"/><rect x="1253" y="550" width="1" height="8"/><rect x="1258" y="544" width="1" height="5"/><rect x="1263" y="532" width="1" height="11"/><rect x="1273" y="537" width="1" height="6"/><rect x="1294" y="593" width="1" height="5"/><rect x="1299" y="557" width="1" height="35"/><rect x="1314" y="556" width="1" height="13"/><rect x="1319" y="532" width="1" height="23"/><rect x="1334" y="569" width="1" height="7"/><rect x="1359" y="597" width="1" height="16"/><rect x="1374" y="605" width="1" height="11"/><rect x="1384" y="607" width="1" height="12"/><rect x="1389" y="592" width="1" height="14"/><rect x="1399" y="587" width="1" height="13"/><rect x="1409" y="600" width="1" height="7"/><rect x="1414" y="590" width="1" height="9"/><rect x="1429" y="614" width="1" height="7"/><rect x="1434" y="608" width="1" height="5"/><rect x="1444" y="616" width="1" height="17"/><rect x="1464" y="621" width="1" height="15"/><rect x="1479" y="640" width="1" height="10"/><rect x="1484" y="634" width="1" height="5"/><rect x="1494" y="640" width="1" height="8"/><rect x="1504" y="614" width="1" height="32"/><rect x="1514" y="607" width="1" height="31"/><rect x="1529" y="626" width="1" height="9"/><rect x="1549" y="641" width="1" height="17"/><rect x="1559" y="652" width="1" height="9"/><rect x="1569" y="675" width="1" height="6"/><rect x="1574" y="666" width="1" height="8"/><rect x="1589" y="685" width="1" height="6"/><rect x="1594" y="673" width="1" height="11"/><rect x="1599" y="646" width="1" height="26"/><rect x="1609" y="648" width="1" height="17"/><rect x="1619" y="670" width="1" height="6"/><rect x="1634" y="669" width="1" height="7"/><rect x="1639" y="656" width="1" height="12"/><rect x="1649" y="646" width="1" height="18"/><rect x="1674" y="662" width="1" height="12"/><rect x="1689" y="711" width="1" height="2"/><rect x="1694" y="675" width="1" height="35"/><rect x="1699" y="624" width="1" height="50"/><rect x="1714" y="652" width="1" height="88"/><rect x="1724" y="693" width="1" height="25"/><rect x="1739" y="685" width="1" height="30"/></g>
<line x1="0" y1="42.45" x2="1770" y2="451.82" stroke="#ff0000" stroke-width="3"/>
<line x1="0" y1="607.23" x2="1054.6" y2="852.00" stroke="#ff0000" stroke-width="3"/>
<line x1="1233.5" y1="573.5" x2="1650.5" y2="572.0" stroke="#000" stroke-width="3" stroke-dasharray="3 6"/>
<rect x="0" y="326" width="1660" height="181" fill="rgba(33,150,243,0.2)"/>
<g shape-rendering="crispEdges">
<rect x="0" y="326" width="1660" height="1" fill="#48a2f0"/>
<rect x="0" y="506" width="1660" height="1" fill="#48a2f0"/>
</g>
<line x1="7" y1="416.5" x2="1660" y2="416.5" stroke="#2196f3" stroke-width="1" stroke-dasharray="5 6" shape-rendering="crispEdges"/>
<polygon points="412,598.00 1700,601.70 1700,640.50 412,637.00" fill="rgba(176,164,216,0.5)"/>
<line x1="412" y1="598.00" x2="1700" y2="601.70" stroke="#8e5bb8" stroke-width="1.1"/>
<line x1="412" y1="637.00" x2="1700" y2="640.50" stroke="#8e5bb8" stroke-width="1.1"/>
<polygon points="1244,516.70 1750,693.80 1750,753.70 1244,576.60" fill="rgba(200,0,0,0.2)"/>
<line x1="1244" y1="516.70" x2="1750" y2="693.80" stroke="#d60000" stroke-width="1"/>
<line x1="1244" y1="576.60" x2="1750" y2="753.70" stroke="#d60000" stroke-width="1"/>
<line x1="1244" y1="546.90" x2="1750" y2="724.00" stroke="#2196f3" stroke-width="1" stroke-dasharray="5 6"/>
<line x1="1208.5" y1="487.7" x2="1763" y2="681.8" stroke="#000" stroke-width="2"/>
</g>
<text x="15.2" y="64.7" font-size="12.5" fill="#4d4d4d" textLength="178.9" lengthAdjust="spacingAndGlyphs" stroke="#4d4d4d" stroke-width="0.55">Euro / U.S. Dollar, 1W, OANDA</text>
<g shape-rendering="crispEdges" fill="#555">
<rect x="6" y="43" width="1816" height="1"/>
<rect x="6" y="879" width="1816" height="1"/>
<rect x="6" y="43" width="1" height="837"/>
<rect x="1821" y="43" width="1" height="837"/>
<rect x="1763" y="43" width="1" height="837"/>
<rect x="6" y="852" width="1816" height="1"/>
<rect x="1764" y="83" width="4" height="1"/>
<rect x="1764" y="123" width="4" height="1"/>
<rect x="1764" y="163" width="4" height="1"/>
<rect x="1764" y="203" width="4" height="1"/>
<rect x="1764" y="242" width="4" height="1"/>
<rect x="1764" y="282" width="4" height="1"/>
<rect x="1764" y="322" width="4" height="1"/>
<rect x="1764" y="362" width="4" height="1"/>
<rect x="1764" y="401" width="4" height="1"/>
<rect x="1764" y="441" width="4" height="1"/>
<rect x="1764" y="481" width="4" height="1"/>
<rect x="1764" y="520" width="4" height="1"/>
<rect x="1764" y="560" width="4" height="1"/>
<rect x="1764" y="600" width="4" height="1"/>
<rect x="1764" y="640" width="4" height="1"/>
<rect x="1764" y="679" width="4" height="1"/>
<rect x="1764" y="719" width="4" height="1"/>
<rect x="1764" y="759" width="4" height="1"/>
<rect x="1764" y="799" width="4" height="1"/>
<rect x="1764" y="838" width="4" height="1"/>
<rect x="11" y="853" width="1" height="3"/>
<rect x="91" y="853" width="1" height="3"/>
<rect x="176" y="853" width="1" height="3"/>
<rect x="261" y="853" width="1" height="3"/>
<rect x="352" y="853" width="1" height="3"/>
<rect x="437" y="853" width="1" height="3"/>
<rect x="527" y="853" width="1" height="3"/>
<rect x="612" y="853" width="1" height="3"/>
<rect x="697" y="853" width="1" height="3"/>
<rect x="787" y="853" width="1" height="3"/>
<rect x="873" y="853" width="1" height="3"/>
<rect x="958" y="853" width="1" height="3"/>
<rect x="1048" y="853" width="1" height="3"/>
<rect x="1133" y="853" width="1" height="3"/>
<rect x="1223" y="853" width="1" height="3"/>
<rect x="1308" y="853" width="1" height="3"/>
<rect x="1398" y="853" width="1" height="3"/>
<rect x="1484" y="853" width="1" height="3"/>
<rect x="1569" y="853" width="1" height="3"/>
<rect x="1659" y="853" width="1" height="3"/>
<rect x="1744" y="853" width="1" height="3"/>
</g>
<g id="price-axis">
<text x="1772.4" y="87.0" font-size="11" fill="#555" textLength="39.2" lengthAdjust="spacingAndGlyphs">1.40000</text>
<text x="1772.4" y="127.0" font-size="11" fill="#555" textLength="39.2" lengthAdjust="spacingAndGlyphs">1.38000</text>
<text x="1772.4" y="167.0" font-size="11" fill="#555" textLength="39.2" lengthAdjust="spacingAndGlyphs">1.36000</text>
<text x="1772.4" y="207.0" font-size="11" fill="#555" textLength="39.2" lengthAdjust="spacingAndGlyphs">1.34000</text>
<text x="1772.4" y="246.0" font-size="11" fill="#555" textLength="39.2" lengthAdjust="spacingAndGlyphs">1.32000</text>
<text x="1772.4" y="286.0" font-size="11" fill="#555" textLength="39.2" lengthAdjust="spacingAndGlyphs">1.30000</text>
<text x="1772.4" y="326.0" font-size="11" fill="#555" textLength="39.2" lengthAdjust="spacingAndGlyphs">1.28000</text>
<text x="1772.4" y="366.0" font-size="11" fill="#555" textLength="39.2" lengthAdjust="spacingAndGlyphs">1.26000</text>
<text x="1772.4" y="405.0" font-size="11" fill="#555" textLength="39.2" lengthAdjust="spacingAndGlyphs">1.24000</text>
<text x="1772.4" y="445.0" font-size="11" fill="#555" textLength="39.2" lengthAdjust="spacingAndGlyphs">1.22000</text>
<text x="1772.4" y="485.0" font-size="11" fill="#555" textLength="39.2" lengthAdjust="spacingAndGlyphs">1.20000</text>
<text x="1772.4" y="524.0" font-size="11" fill="#555" textLength="39.2" lengthAdjust="spacingAndGlyphs">1.18000</text>
<text x="1772.4" y="564.0" font-size="11" fill="#555" textLength="39.2" lengthAdjust="spacingAndGlyphs">1.16000</text>
<text x="1772.4" y="604.0" font-size="11" fill="#555" textLength="39.2" lengthAdjust="spacingAndGlyphs">1.14000</text>
<text x="1772.4" y="644.0" font-size="11" fill="#555" textLength="39.2" lengthAdjust="spacingAndGlyphs">1.12000</text>
<text x="1772.4" y="683.0" font-size="11" fill="#555" textLength="39.2" lengthAdjust="spacingAndGlyphs">1.10000</text>
<text x="1772.4" y="723.0" font-size="11" fill="#555" textLength="39.2" lengthAdjust="spacingAndGlyphs">1.08000</text>
<text x="1772.4" y="763.0" font-size="11" fill="#555" textLength="39.2" lengthAdjust="spacingAndGlyphs">1.06000</text>
<text x="1772.4" y="803.0" font-size="11" fill="#555" textLength="39.2" lengthAdjust="spacingAndGlyphs">1.04000</text>
<text x="1772.4" y="842.0" font-size="11" fill="#555" textLength="39.2" lengthAdjust="spacingAndGlyphs">1.02000</text>
</g>
<rect x="1763" y="676" width="58" height="17" fill="#fff"/>
<rect x="1763" y="684" width="4" height="1" fill="#000" shape-rendering="crispEdges"/>
<text x="1772.4" y="688" font-size="11" fill="#000" textLength="39.2" lengthAdjust="spacingAndGlyphs">1.09794</text>
<defs><clipPath id="taxis"><rect x="7" y="853" width="1756" height="26"/></clipPath></defs>
<g id="time-axis" clip-path="url(#taxis)">
<text x="10.9" y="871" font-size="11" fill="#555" text-anchor="middle" textLength="11.6" lengthAdjust="spacingAndGlyphs">16</text>
<text x="91.5" y="871" font-size="11" fill="#555" font-weight="bold" text-anchor="middle" textLength="23.7" lengthAdjust="spacingAndGlyphs">2014</text>
<text x="176.5" y="871" font-size="11" fill="#555" text-anchor="middle" textLength="20.0" lengthAdjust="spacingAndGlyphs">May</text>
<text x="261.5" y="871" font-size="11" fill="#555" text-anchor="middle" textLength="18.9" lengthAdjust="spacingAndGlyphs">Sep</text>
<text x="352.5" y="871" font-size="11" fill="#555" font-weight="bold" text-anchor="middle" textLength="23.7" lengthAdjust="spacingAndGlyphs">2015</text>
<text x="437.5" y="871" font-size="11" fill="#555" text-anchor="middle" textLength="20.0" lengthAdjust="spacingAndGlyphs">May</text>
<text x="527.5" y="871" font-size="11" fill="#555" text-anchor="middle" textLength="18.9" lengthAdjust="spacingAndGlyphs">Sep</text>
<text x="612.5" y="871" font-size="11" fill="#555" font-weight="bold" text-anchor="middle" textLength="23.7" lengthAdjust="spacingAndGlyphs">2016</text>
<text x="697.5" y="871" font-size="11" fill="#555" text-anchor="middle" textLength="20.0" lengthAdjust="spacingAndGlyphs">May</text>
<text x="787.5" y="871" font-size="11" fill="#555" text-anchor="middle" textLength="18.9" lengthAdjust="spacingAndGlyphs">Sep</text>
<text x="873.5" y="871" font-size="11" fill="#555" font-weight="bold" text-anchor="middle" textLength="23.7" lengthAdjust="spacingAndGlyphs">2017</text>
<text x="958.5" y="871" font-size="11" fill="#555" text-anchor="middle" textLength="20.0" lengthAdjust="spacingAndGlyphs">May</text>
<text x="1048.5" y="871" font-size="11" fill="#555" text-anchor="middle" textLength="18.9" lengthAdjust="spacingAndGlyphs">Sep</text>
<text x="1133.5" y="871" font-size="11" fill="#555" font-weight="bold" text-anchor="middle" textLength="23.7" lengthAdjust="spacingAndGlyphs">2018</text>
<text x="1223.5" y="871" font-size="11" fill="#555" text-anchor="middle" textLength="20.0" lengthAdjust="spacingAndGlyphs">May</text>
<text x="1308.5" y="871" font-size="11" fill="#555" text-anchor="middle" textLength="18.9" lengthAdjust="spacingAndGlyphs">Sep</text>
<text x="1398.5" y="871" font-size="11" fill="#555" font-weight="bold" text-anchor="middle" textLength="23.7" lengthAdjust="spacingAndGlyphs">2019</text>
<text x="1484.5" y="871" font-size="11" fill="#555" text-anchor="middle" textLength="20.0" lengthAdjust="spacingAndGlyphs">May</text>
<text x="1569.5" y="871" font-size="11" fill="#555" text-anchor="middle" textLength="18.9" lengthAdjust="spacingAndGlyphs">Sep</text>
<text x="1659.5" y="871" font-size="11" fill="#555" font-weight="bold" text-anchor="middle" textLength="23.7" lengthAdjust="spacingAndGlyphs">2020</text>
<text x="1744.5" y="871" font-size="11" fill="#555" text-anchor="middle" textLength="20.0" lengthAdjust="spacingAndGlyphs">May</text>
</g>
<g id="logo">
<g fill="#2196f3"><circle cx="16.74" cy="894.77" r="4.92"/><circle cx="10.83" cy="900.03" r="4.92"/><circle cx="26.5" cy="897.7" r="3.8"/><circle cx="27.6" cy="900.35" r="4.6"/><rect x="10.8" y="897.5" width="16.8" height="7.45"/></g>
<path d="M6.6 902.9 L15.8 895.4 L22 901.4 L29.2 894.8" fill="none" stroke="#fff" stroke-width="1.3" stroke-linejoin="round"/>
<circle cx="15.8" cy="895.4" r="1.8" fill="#fff"/><circle cx="22" cy="901.4" r="1.8" fill="#fff"/>
<text x="34" y="901.7" font-size="13.5" fill="#131722" textLength="70.8" lengthAdjust="spacingAndGlyphs">TradingView</text>
</g>
</svg></body></html>
